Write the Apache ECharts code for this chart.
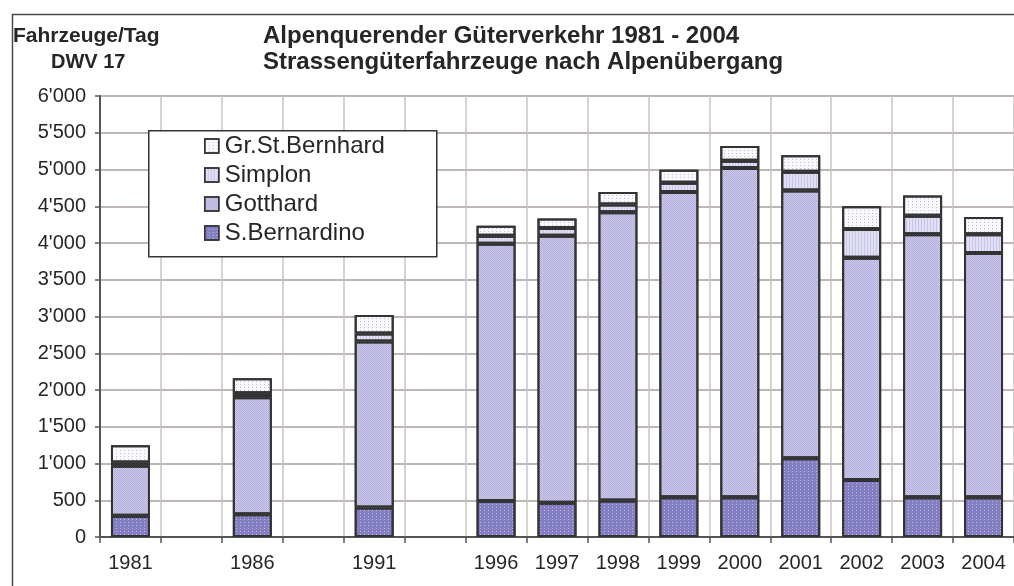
<!DOCTYPE html>
<html>
<head>
<meta charset="utf-8">
<script src="https://cdn.jsdelivr.net/npm/echarts@6/dist/echarts.min.js"></script>
<style>
html,body{margin:0;padding:0;background:#fff;}
#chart{width:1014px;height:586px;}
</style>
</head>
<body>
<div id="chart"></div>
<script>
// Categories (blank slots are the empty gaps between 1981, 1986, 1991 and 1996)
const categories = ['1981', '', '1986', '', '1991', '', '1996', '1997', '1998', '1999', '2000', '2001', '2002', '2003', '2004'];

// Vehicles per day by pass (null = empty gap slot)
const sBernardino   = [290, null, 310, null, 400, null, 490, 465, 495, 540, 540, 1070, 775, 540, 540];
const gotthard      = [680, null, 1590, null, 2260, null, 3500, 3635, 3925, 4155, 4480, 3645, 3025, 3580, 3325];
const simplon       = [45, null, 55, null, 110, null, 110, 105, 105, 125, 100, 255, 390, 250, 255];
const grStBernhard  = [235, null, 205, null, 250, null, 135, 130, 170, 175, 200, 225, 310, 275, 235];

const yTicks = [0, 500, 1000, 1500, 2000, 2500, 3000, 3500, 4000, 4500, 5000, 5500, 6000];

const FONT = '"Liberation Sans", Arial, sans-serif';
const TXT = '#262626';

function fmt(v) {
  if (v >= 1000) {
    return Math.floor(v / 1000) + "'" + String(v % 1000).padStart(3, '0');
  }
  return String(v);
}

const chart = echarts.init(document.getElementById('chart'), null, {renderer: 'canvas'});

function barSeries(name, data, color, decal) {
  return {
    name: name,
    type: 'bar',
    stack: 'total',
    data: data,
    barWidth: 39,
    itemStyle: {color: color, borderColor: '#333333', borderWidth: 2, decal: decal},
    emphasis: {disabled: true}
  };
}

const option = {
  animation: false,
  backgroundColor: '#ffffff',
  aria: {enabled: true, decal: {show: true}, label: {enabled: false}},
  textStyle: {fontFamily: FONT},
  title: [
    {
      text: 'Alpenquerender Güterverkehr 1981 - 2004\nStrassengüterfahrzeuge nach Alpenübergang',
      left: 263, top: 23, padding: 0,
      textStyle: {fontFamily: FONT, fontSize: 24, fontWeight: 'bold', color: TXT, lineHeight: 26}
    },
    {
      text: 'Fahrzeuge/Tag',
      left: 13, top: 23, padding: 0,
      textStyle: {fontFamily: FONT, fontSize: 21, fontWeight: 'bold', color: TXT, lineHeight: 26}
    },
    {
      text: 'DWV 17',
      left: 51, top: 49, padding: 0,
      textStyle: {fontFamily: FONT, fontSize: 20, fontWeight: 'bold', color: TXT, lineHeight: 26}
    }
  ],
  graphic: [
    {
      type: 'rect', left: 10, top: 12, z: -10, silent: true,
      shape: {width: 1100, height: 700},
      style: {fill: 'none', stroke: '#4a4a4a', lineWidth: 1.5}
    },
    {
      type: 'rect', left: 148, top: 130, z: 10, silent: true,
      shape: {width: 288, height: 126},
      style: {fill: '#ffffff', stroke: '#333333', lineWidth: 1.5}
    }
  ],
  legend: {
    data: ['Gr.St.Bernhard', 'Simplon', 'Gotthard', 'S.Bernardino'],
    orient: 'vertical',
    left: 204, top: 134,
    padding: 0,
    itemGap: 5,
    itemWidth: 14, itemHeight: 14,
    icon: 'rect',
    z: 20,
    selectedMode: false,
    itemStyle: {borderColor: '#333333', borderWidth: 1.5},
    textStyle: {fontFamily: FONT, fontSize: 24, color: TXT, padding: [0, 0, 0, 1]}
  },
  grid: {left: 100, top: 96, width: 916, height: 441, containLabel: false},
  xAxis: {
    type: 'category',
    data: categories,
    boundaryGap: true,
    axisLine: {lineStyle: {color: '#555555', width: 2}},
    axisTick: {show: true, interval: 0, length: 6, lineStyle: {color: '#555555', width: 1.5}},
    axisLabel: {interval: 0, margin: 16, fontFamily: FONT, fontSize: 20, color: TXT},
    splitLine: {show: true, interval: 0, lineStyle: {color: '#cbc3c3', width: 1.5}}
  },
  yAxis: {
    type: 'value',
    min: yTicks[0],
    max: yTicks[yTicks.length - 1],
    interval: yTicks[1] - yTicks[0],
    axisLine: {show: true, lineStyle: {color: '#555555', width: 2}},
    axisTick: {show: true, length: 5, lineStyle: {color: '#555555', width: 1.5}},
    axisLabel: {margin: 14, fontFamily: FONT, fontSize: 20, color: TXT, formatter: fmt},
    splitLine: {show: true, lineStyle: {color: '#a89f9f', width: 1.5}}
  },
  series: [
    barSeries('S.Bernardino', sBernardino, '#847fc3',
      {symbol: 'rect', symbolSize: 1, dashArrayX: [1, 3], dashArrayY: [1, 2], color: 'rgba(255,255,255,0.45)', rotation: 0}),
    barSeries('Gotthard', gotthard, '#b2aedd',
      {symbol: 'rect', symbolSize: 1, dashArrayX: [[1, 1], [0, 1, 1, 0]], dashArrayY: [1, 0], color: 'rgba(255,255,255,0.35)', rotation: 0}),
    barSeries('Simplon', simplon, '#e2e0f4',
      {symbol: 'rect', symbolSize: 1, dashArrayX: [1, 2], dashArrayY: [1, 0], color: 'rgba(150,145,210,0.35)', rotation: 0}),
    barSeries('Gr.St.Bernhard', grStBernhard, '#f8f8fd',
      {symbol: 'rect', symbolSize: 1, dashArrayX: [1, 3], dashArrayY: [1, 2], color: 'rgba(130,125,200,0.5)', rotation: 0})
  ]
};

chart.setOption(option);
</script>
</body>
</html>
